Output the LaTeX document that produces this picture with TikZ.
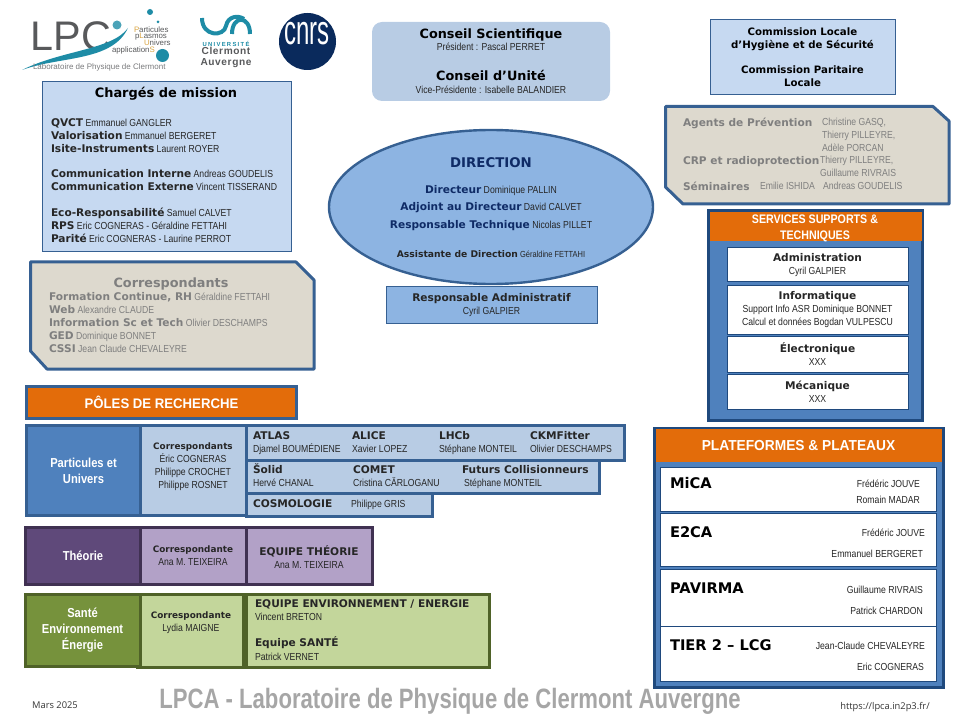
\documentclass[tikz,border=0pt]{standalone}
\usepackage{fontspec}
\usetikzlibrary{shapes.geometric}
\setmainfont{Liberation Sans}
\newfontfamily\verdfam{DejaVu Sans}
\newfontfamily\namefam[FakeStretch=0.85]{Liberation Sans}
\newfontfamily\narrowfam[FakeStretch=0.86]{Liberation Sans}
\newfontfamily\widefam[FakeStretch=0.95]{Liberation Sans}
\newfontfamily\footfam[FakeStretch=0.79]{Liberation Sans}
\newfontfamily\cnrsfam[FakeStretch=0.58]{Liberation Sans}
\newfontfamily\opensans{Open Sans}
\newfontfamily\spacedfam[LetterSpace=22]{Liberation Sans}
\newfontfamily\logofam[LetterSpace=6]{Liberation Sans}
\definecolor{lightblue}{HTML}{C6D9F1}
\definecolor{paleblue}{HTML}{B8CCE4}
\definecolor{midblue}{HTML}{8DB4E2}
\definecolor{strongblue}{HTML}{4F81BD}
\definecolor{edgeblue}{HTML}{366092}
\definecolor{darkblue}{HTML}{1F497D}
\definecolor{navy}{HTML}{0F2B66}
\definecolor{sand}{HTML}{DDD9CE}
\definecolor{greytext}{HTML}{7F7F7F}
\definecolor{orange}{HTML}{E36C0A}
\definecolor{plum}{HTML}{5F497A}
\definecolor{plumedge}{HTML}{403152}
\definecolor{lilac}{HTML}{B2A1C7}
\definecolor{olive}{HTML}{76923C}
\definecolor{oliveedge}{HTML}{4F6228}
\definecolor{palegreen}{HTML}{C3D69B}
\definecolor{lpcteal}{HTML}{1E8CA6}
\definecolor{lpcgrey}{HTML}{58595B}
\definecolor{lpcgold}{HTML}{D9A441}
\definecolor{cnrsblue}{HTML}{0A2A5C}
\newcommand{\hd}[1]{{\verdfam\bfseries\fontsize{7.95}{9.75}\selectfont #1}}
\newcommand{\sm}[1]{{\verdfam\bfseries\fontsize{6.65}{9.75}\selectfont #1}}
\newcommand{\gd}[1]{\textcolor{lpcgold}{#1}}
\tikzset{
	sized/.style 2 args={minimum width=#1*0.75pt,minimum height=#2*0.75pt,inner sep=0pt,outer sep=0pt,anchor=north west,align=center},
	txt/.style={inner sep=0pt,outer sep=0pt,anchor=north west,align=left,font=\fontsize{7.65}{9.75}\selectfont\namefam,text=black!85},
	ctr/.style={txt,anchor=mid,align=center},
	rgt/.style={txt,anchor=mid east},
	panel/.style={draw=#1,line width=0.75pt},
	thick edge/.style={draw=#1,line width=2.25pt},
	snipped/.style={fill=sand,thick edge=edgeblue,line join=round},
	whitetitle/.style={text=white,font=\fontsize{9.75}{12}\selectfont\narrowfam\bfseries},
	plattitle/.style={txt,anchor=mid west,text=black,font=\fontsize{11}{12}\selectfont\verdfam\bfseries},
	logotext/.style={txt,text=lpcgrey,font=\fontsize{5.9}{6}\selectfont},
	row/.style={fill=white,panel=darkblue}
}
\begin{document}
\begin{tikzpicture}[x=0.75pt,y=-0.75pt]
	\useasboundingbox (0,0) rectangle (960,720);
	% logos
	\node[txt,text=lpcgrey,font=\fontsize{31}{31}\selectfont] (lpcword) at (31,22) {LPC};
	\fill[lpcteal] (22,70) .. controls (60,56) and (112,62) .. (128,28) .. controls (112,50) and (62,50) .. (22,70) -- cycle;
	\fill[lpcteal!80] (117,25) circle (4.5);
	\fill[lpcteal] (150,12) circle (3);
	\fill[lpcteal] (158,22) circle (1.5);
	\fill[lpcteal] (162.5,55.5) circle (6.5);
	\node[logotext] (lpcparticules) at (134,26.5) {\gd{P}articules};
	\node[logotext] (lpcplasmos) at (135,33) {p\gd{L}asmos};
	\node[logotext] (lpcunivers) at (144,40) {\gd{U}nivers};
	\node[logotext] (lpcapp) at (112,46.5) {application\gd{S}};
	\node[txt,text=lpcgrey!80,font=\fontsize{6}{6}\selectfont] (lpcname) at (33,64) {Laboratoire de Physique de Clermont};
	\draw[lpcteal,line width=3pt] (202,18) .. controls (202,37) and (224,37) .. (226,26) .. controls (228,16) and (238,15) .. (244,19);
	\draw[lpcteal,line width=3pt] (232,34) .. controls (232,15) and (250,15) .. (250,34);
	\node[ctr,text=lpcteal,font=\fontsize{4.4}{5}\selectfont\spacedfam\bfseries] (ucauniv) at (226,43) {UNIVERSITÉ};
	\node[ctr,text=lpcgrey,font=\fontsize{7.6}{8.2}\selectfont\logofam\bfseries] (ucacity) at (226,62) {Clermont\\Auvergne};
	\node[circle,fill=cnrsblue,minimum size=42.75pt,inner sep=0pt] (cnrslogo) at (307.5,41.5) {};
	\node[ctr,text=white,font=\fontsize{31}{31}\selectfont\cnrsfam] (cnrsword) at (307,41) {cnrs};
	% top left
	\node[sized={249}{170},fill=lightblue,panel=edgeblue] (missionbox) at (42,82) {};
	\node[ctr,text=black,font=\fontsize{9.7}{12}\selectfont\verdfam\bfseries] (missiontitle) at (166,94) {Chargés de mission};
	\node[txt] (missions) at (51,118.5) {\hd{QVCT} Emmanuel GANGLER\\\hd{Valorisation} Emmanuel BERGERET\\\hd{Isite-Instruments} Laurent ROYER\\[9pt]
		\hd{Communication Interne} Andreas GOUDELIS\\\hd{Communication Externe} Vincent TISSERAND\\[9.5pt]
		\hd{Eco-Responsabilité} Samuel CALVET\\\hd{RPS} Eric COGNERAS - Géraldine FETTAHI\\\hd{Parité} Eric COGNERAS - Laurine PERROT};
	\draw[snipped] (30.5,262) -- (296,262) -- (314,280) -- (314,369) -- (47,369) -- (30.5,351) -- cycle;
	\node[ctr,text=greytext,font=\fontsize{9.6}{12}\selectfont\verdfam\bfseries] (corrtitle) at (171,284) {Correspondants};
	\node[txt,text=greytext] (corrlist) at (49,292.5) {\hd{Formation Continue, RH} Géraldine FETTAHI\\\hd{Web} Alexandre CLAUDE\\\hd{Information Sc et Tech} Olivier DESCHAMPS\\\hd{GED} Dominique BONNET\\\hd{CSSI} Jean Claude CHEVALEYRE};
	% conseils
	\node[sized={238}{79},fill=paleblue,rounded corners=7.5pt] (conseilbox) at (372,22) {};
	\node[ctr,text=black,font=\fontsize{9.6}{12}\selectfont\verdfam\bfseries] (scientifique) at (491,35) {Conseil Scientifique};
	\node[ctr] (president) at (491,47) {Président : Pascal PERRET};
	\node[ctr,text=black,font=\fontsize{9.6}{12}\selectfont\verdfam\bfseries] (unite) at (491,77) {Conseil d’Unité};
	\node[ctr] (viceprez) at (491,90) {Vice-Présidente : Isabelle BALANDIER};
	% direction
	\node[ellipse,draw=edgeblue,line width=1.8pt,fill=midblue,minimum width=243pt,minimum height=115.5pt,inner sep=0pt] (direction) at (491,207) {};
	\node[ctr,text=navy,font=\fontsize{10}{12}\selectfont\verdfam\bfseries] (directiontitle) at (491,164) {DIRECTION};
	\node[ctr] (directeur) at (491,190) {{\color{navy}\hd{Directeur}} Dominique PALLIN};
	\node[ctr] (adjoint) at (491,207) {{\color{navy}\hd{Adjoint au Directeur}} David CALVET};
	\node[ctr] (technique) at (491,225) {{\color{navy}\hd{Responsable Technique}} Nicolas PILLET};
	\node[ctr,font=\fontsize{6.6}{9}\selectfont\namefam] (assistante) at (491,254) {{\verdfam\bfseries\fontsize{6.9}{9}\selectfont Assistante de Direction} Géraldine FETTAHI};
	\node[sized={211}{36},fill=midblue,panel=edgeblue,font=\fontsize{7.65}{9.75}\selectfont\namefam,text=black!85] (admin) at (386,287) {\hd{Responsable Administratif}\\Cyril GALPIER};
	% top right
	\node[sized={185}{75},fill=lightblue,panel=edgeblue] (commissionbox) at (710,20) {};
	\node[ctr,text=black,font=\fontsize{7.65}{9.75}\selectfont\verdfam\bfseries] (commission) at (802.5,83) {Commission Locale\\d’Hygiène et de Sécurité\\[9pt]Commission Paritaire\\Locale};
	\draw[snipped] (665.5,106.5) -- (933,106.5) -- (949,121) -- (949,204) -- (683,204) -- (665.5,187) -- cycle;
	\node[txt,text=greytext] (agents) at (683,118) {\hd{Agents de Prévention}};
	\node[txt,text=greytext] (agentsnames) at (822,118) {Christine GASQ,\\Thierry PILLEYRE,\\Adèle PORCAN};
	\node[txt,text=greytext] (crp) at (683,156) {\hd{CRP et radioprotection}};
	\node[txt,text=greytext] (crpnames) at (820,156) {Thierry PILLEYRE,\\Guillaume RIVRAIS};
	\node[txt,text=greytext] (seminaires) at (683,182) {\hd{Séminaires}};
	\node[txt,text=greytext] (semone) at (760,182) {Emilie ISHIDA};
	\node[txt,text=greytext] (semtwo) at (823,182) {Andreas GOUDELIS};
	% services
	\node[sized={214}{209},fill=strongblue,thick edge=darkblue] (services) at (708,211) {};
	\node[sized={212}{29},fill=orange] (serviceshead) at (710,212) {};
	\node[ctr,whitetitle,font=\fontsize{9.3}{12}\selectfont\narrowfam\bfseries,text=white] (headlabel) at (815,236) {SERVICES SUPPORTS \&\\TECHNIQUES};
	\node[row,txt,align=center,minimum width=135.75pt,minimum height=25.5pt] (sadmin) at (727,248) {\hd{Administration}\\Cyril GALPIER};
	\node[row,txt,align=center,minimum width=135.75pt,minimum height=36pt] (sinfo) at (727,286) {\hd{Informatique}\\Support Info ASR Dominique BONNET\\Calcul et données Bogdan VULPESCU};
	\node[row,txt,align=center,minimum width=135.75pt,minimum height=27pt] (selec) at (727,336) {\hd{Électronique}\\XXX};
	\node[row,txt,align=center,minimum width=135.75pt,minimum height=26.25pt] (smeca) at (727,374) {\hd{Mécanique}\\XXX};
	% poles
	\node[sized={270}{32},fill=orange,thick edge=edgeblue,whitetitle,font=\fontsize{10.4}{12}\selectfont\widefam\bfseries] (poles) at (26.5,386.5) {PÔLES DE RECHERCHE};
	\node[sized={378}{35},fill=paleblue,thick edge=edgeblue] (atlasrow) at (246.5,425.5) {};
	\node[sized={353}{33},fill=paleblue,thick edge=edgeblue] (solidrow) at (246.5,460) {};
	\node[sized={186}{23},fill=paleblue,thick edge=edgeblue] (cosmorow) at (246.5,493) {};
	\node[sized={114}{90},fill=strongblue,thick edge=edgeblue,whitetitle] (particules) at (26.5,425.5) {Particules et\\Univers};
	\node[sized={106}{90},fill=paleblue,thick edge=edgeblue] (partmid) at (140.5,425.5) {};
	\node[ctr] (partcorr) at (193,484.5) {\sm{Correspondants}\\Éric COGNERAS\\Philippe CROCHET\\Philippe ROSNET};
	\node[txt] (atlas) at (253,431.5) {\hd{ATLAS}\\Djamel BOUMÉDIENE};
	\node[txt] (alice) at (352,431.5) {\hd{ALICE}\\Xavier LOPEZ};
	\node[txt] (lhcb) at (439,431.5) {\hd{LHCb}\\Stéphane MONTEIL};
	\node[txt] (ckm) at (530,431.5) {\hd{CKMFitter}\\Olivier DESCHAMPS};
	\node[txt] (solid) at (253,464) {\hd{Šolid}\\Hervé CHANAL};
	\node[txt] (comet) at (353,465.5) {\hd{COMET}\\Cristina CĂRLOGANU};
	\node[txt] (futurs) at (462,465.5) {\hd{Futurs Collisionneurs}\\\hspace{1.5pt}Stéphane MONTEIL};
	\node[txt,anchor=mid west] (cosmo) at (253,504) {\hd{COSMOLOGIE}};
	\node[txt,anchor=mid west] (gris) at (351,504) {Philippe GRIS};
	\node[sized={115}{57},fill=plum,thick edge=plumedge,whitetitle] (theorie) at (25.5,527.5) {Théorie};
	\node[sized={106}{57},fill=lilac,thick edge=plumedge] (theomid) at (140.5,527.5) {};
	\node[sized={126}{57},fill=lilac,thick edge=plumedge] (theoright) at (246.5,527.5) {};
	\node[ctr] (theocorr) at (193,562) {\sm{Correspondante}\\Ana M. TEIXEIRA};
	\node[ctr] (theoteam) at (309,564.5) {\hd{EQUIPE THÉORIE}\\Ana M. TEIXEIRA};
	\node[sized={106}{73},fill=palegreen,thick edge=oliveedge] (santemid) at (137,594.5) {};
	\node[sized={243}{73},fill=palegreen,thick edge=oliveedge] (santeright) at (246.5,594.5) {};
	\node[sized={115}{72},fill=olive,thick edge=oliveedge,whitetitle] (sante) at (25,594.5) {Santé\\Environnement\\Énergie};
	\node[ctr] (santecorr) at (191,627.5) {\sm{Correspondante}\\Lydia MAIGNE};
	\node[txt] (envteam) at (255,599.5) {\hd{EQUIPE ENVIRONNEMENT / ENERGIE}\\Vincent BRETON};
	\node[txt] (santeteam) at (255,636.5) {\hd{Equipe SANTÉ}\\[1pt]Patrick VERNET};
	% plateformes
	\node[sized={289}{259},fill=strongblue,thick edge=darkblue] (plateformes) at (654,428) {};
	\node[sized={286}{33},fill=orange,whitetitle,font=\fontsize{10.85}{12}\selectfont\widefam\bfseries] (plathead) at (655.5,429) {PLATEFORMES \& PLATEAUX};
	\node[sized={276}{44},row] (mica) at (660,467) {};
	\node[sized={276}{53},row] (etca) at (660,513) {};
	\node[sized={276}{57},row] (pavirma) at (660,569) {};
	\node[sized={276}{55},row] (tier) at (660,626) {};
	\node[plattitle] (micaname) at (670,485) {MiCA};
	\node[rgt] (micaone) at (920,484) {Frédéric JOUVE};
	\node[rgt] (micatwo) at (920,500) {Romain MADAR};
	\node[plattitle] (etcaname) at (670,534) {E2CA};
	\node[rgt] (etcaone) at (925,533) {Frédéric JOUVE};
	\node[rgt] (etcatwo) at (923,554) {Emmanuel BERGERET};
	\node[plattitle] (pavname) at (670,590) {PAVIRMA};
	\node[rgt] (pavone) at (923,590) {Guillaume RIVRAIS};
	\node[rgt] (pavtwo) at (923,611) {Patrick CHARDON};
	\node[plattitle] (tiername) at (670,647) {TIER 2 – LCG};
	\node[rgt] (tierone) at (925,646) {Jean-Claude CHEVALEYRE};
	\node[rgt] (tiertwo) at (924,667) {Eric COGNERAS};
	% footer
	\node[ctr,text=black!80,font=\fontsize{7}{8}\selectfont\opensans] (mars) at (55,705) {Mars 2025};
	\node[ctr,text=black!35,font=\fontsize{21}{24}\selectfont\footfam\bfseries] (lpcatitle) at (450,705) {LPCA - Laboratoire de Physique de Clermont Auvergne};
	\node[ctr,text=black!80,font=\fontsize{7}{8}\selectfont\opensans] (website) at (885,706) {https://lpca.in2p3.fr/};
\end{tikzpicture}
\end{document}
